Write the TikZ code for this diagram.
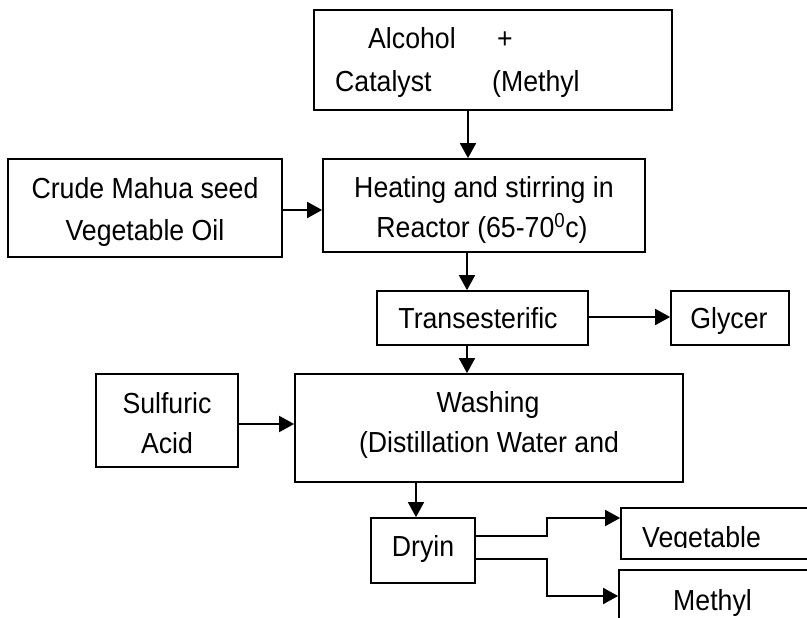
\documentclass[tikz,border=0pt]{standalone}
\usepackage{fontspec}
\setmainfont{Liberation Sans}[FakeStretch=0.92]
\usetikzlibrary{arrows.meta}
\begin{document}
\begin{tikzpicture}[x=1pt,y=-1pt,
  box/.style={draw,line width=1.7pt,rectangle,inner sep=0pt},
  txt/.style={inner sep=0pt,anchor=base,font=\fontsize{29}{33}\selectfont},
  txtw/.style={txt,anchor=base west},
  arr/.style={line width=1.7pt,-{Triangle[length=15pt,width=16pt]}},
  ln/.style={line width=1.7pt}]
\clip (0,0) rectangle (807,618);
\fill[white] (0,0) rectangle (807,618);
% boxes
\node[box,minimum width=358pt,minimum height=100pt] (alc) at (493,60) {};
\node[box,minimum width=274pt,minimum height=98pt] (crude) at (145,208) {};
\node[box,minimum width=322pt,minimum height=93pt] (heat) at (484,205.5) {};
\node[box,minimum width=211pt,minimum height=54pt] (trans) at (482.5,318) {};
\node[box,minimum width=118pt,minimum height=54pt] (gly) at (730,318) {};
\node[box,minimum width=142pt,minimum height=93pt] (sulf) at (167,420.5) {};
\node[box,minimum width=388pt,minimum height=108pt] (wash) at (489,428) {};
\node[box,minimum width=104pt,minimum height=65pt] (dry) at (423,550.5) {};
\node[box,minimum width=220pt,minimum height=51pt] (veg) at (731,533.5) {};
\node[box,minimum width=220pt,minimum height=80pt] (meth) at (729,610) {};
% texts
\node[txtw] (t1) at (368,49) {Alcohol};
\node[txt] (t2) at (505,49) {+};
\node[txtw] (t3) at (335,92) {Catalyst};
\node[txtw] (t4) at (492,92) {(Methyl};
\node[txt] (t5) at (145,198) {Crude Mahua seed};
\node[txt] (t6) at (145,240) {Vegetable Oil};
\node[txt] (t7) at (484,197) {Heating and stirring in};
\node[txt] (t8) at (482,237) {Reactor (65-70\textsuperscript{0}c)};
\node[txt] (t9) at (478,328) {Transesterific};
\node[txt] (t10) at (729,328) {Glycer};
\node[txt] (t11) at (167,413) {Sulfuric};
\node[txt] (t12) at (167,453) {Acid};
\node[txt] (t13) at (488,412) {Washing};
\node[txt] (t14) at (489,452) {(Distillation Water and};
\node[txt] (t15) at (423,556) {Dryin};
\begin{scope}
\clip (621,508) rectangle (807,547);
\node[txtw] (t16) at (642,547) {Vegetable};
\end{scope}
\node[txtw] (t17) at (673,610) {Methyl};
% connectors
\draw[arr] (alc.south -| {468,0}) -- (heat.north -| {468,0});
\draw[arr] (crude.east |- {0,210}) -- (heat.west |- {0,210});
\draw[arr] (heat.south -| {467,0}) -- (trans.north -| {467,0});
\draw[arr] (trans.east |- {0,317}) -- (gly.west |- {0,317});
\draw[arr] (trans.south -| {467,0}) -- (wash.north -| {467,0});
\draw[arr] (sulf.east |- {0,424}) -- (wash.west |- {0,424});
\draw[arr] (wash.south -| {416,0}) -- (dry.north -| {416,0});
\coordinate (b1) at (547,536);
\coordinate (b2) at (547,559);
\draw[arr] (dry.east |- b1) -- (b1) |- (veg.west |- {0,518});
\draw[arr] (dry.east |- b2) -- (b2) |- (meth.west |- {0,596});
\end{tikzpicture}
\end{document}
